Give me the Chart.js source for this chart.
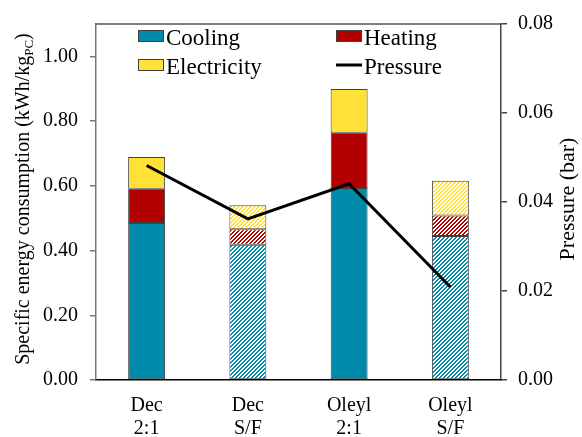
<!DOCTYPE html>
<html>
<head>
<meta charset="utf-8">
<script src="https://cdn.jsdelivr.net/npm/chart.js@4/dist/chart.umd.min.js"></script>
<style>
  html, body { margin: 0; padding: 0; background: #fff; }
  #wrap { width: 582px; height: 437px; }
</style>
</head>
<body>
<div id="wrap"><canvas id="c" width="582" height="437"></canvas></div>
<script>
// Specific energy consumption per configuration, stacked by energy type
const categories = [['Dec', '2:1'], ['Dec', 'S/F'], ['Oleyl', '2:1'], ['Oleyl', 'S/F']];
const cooling     = [0.485, 0.418, 0.593, 0.445];
const heating     = [0.106, 0.048, 0.171, 0.063];
const electricity = [0.098, 0.074, 0.135, 0.108];
const pressure    = [0.0482, 0.0362, 0.0441, 0.0209];
// S/F configurations are drawn hatched
const hatched     = [false, true, false, true];

const energyTicks   = [0, 0.2, 0.4, 0.6, 0.8, 1.0];
const pressureTicks = [0, 0.02, 0.04, 0.06, 0.08];

const SERIF = '"Liberation Serif", "Times New Roman", serif';
const COL = { cooling: '#008AA9', heating: '#B20000', electricity: '#FFE138' };
const EDGE = '#404040';

// diagonal "/" stripes of a colour on white
function stripes(color) {
  const t = document.createElement('canvas');
  t.width = 4; t.height = 4;
  const g = t.getContext('2d');
  g.fillStyle = '#fff';
  g.fillRect(0, 0, 4, 4);
  g.fillStyle = color;
  for (let x = 0; x < 4; x++) {
    for (let y = 0; y < 4; y++) {
      if ((x + y) % 4 < 2) g.fillRect(x, y, 1, 1);
    }
  }
  return g.createPattern(t, 'repeat');
}

function fills(color) {
  const p = stripes(color);
  return hatched.map(h => h ? p : color);
}

// left and right axis titles, plus the top frame line
const frameAndTitles = {
  id: 'frameAndTitles',
  afterDraw(chart) {
    const ctx = chart.ctx;
    const a = chart.chartArea;
    ctx.save();
    ctx.strokeStyle = '#555';
    ctx.lineWidth = 1.5;
    ctx.beginPath();
    ctx.moveTo(a.left - 0.75, a.top);
    ctx.lineTo(a.right + 0.75, a.top);
    ctx.stroke();

    // left title with subscript
    const main = 'Specific energy consumption (kWh/kg';
    const sub = 'PC';
    const close = ')';
    const mainFont = '20px ' + SERIF;
    const subFont = '13px ' + SERIF;
    ctx.font = mainFont;
    const w1 = ctx.measureText(main).width;
    const w3 = ctx.measureText(close).width;
    ctx.font = subFont;
    const w2 = ctx.measureText(sub).width;
    const total = w1 + w2 + w3;
    ctx.translate(22, (a.top + a.bottom) / 2 - 3);
    ctx.rotate(-Math.PI / 2);
    ctx.fillStyle = '#000';
    ctx.textBaseline = 'alphabetic';
    ctx.textAlign = 'left';
    let x = -total / 2;
    const base = 7;
    ctx.font = mainFont;
    ctx.fillText(main, x, base);
    x += w1;
    ctx.font = subFont;
    ctx.fillText(sub, x, base + 4);
    x += w2;
    ctx.font = mainFont;
    ctx.fillText(close, x, base);
    ctx.restore();

    // right title
    ctx.save();
    ctx.translate(568, (a.top + a.bottom) / 2 - 3);
    ctx.rotate(-Math.PI / 2);
    ctx.font = '22px ' + SERIF;
    ctx.fillStyle = '#000';
    ctx.textAlign = 'center';
    ctx.textBaseline = 'middle';
    ctx.fillText('Pressure (bar)', 0, 0);
    ctx.restore();
  }
};

// two-column legend inside the plot area
const gridLegend = {
  id: 'gridLegend',
  afterDraw(chart) {
    const ctx = chart.ctx;
    const ds = chart.data.datasets;
    const slots = [[138, 36], [336, 36], [138, 65], [336, 65]];
    const order = [1, 2, 3, 0]; // Cooling, Heating, Electricity, Pressure
    ctx.save();
    ctx.font = '23px ' + SERIF;
    ctx.textBaseline = 'middle';
    ctx.textAlign = 'left';
    order.forEach((di, i) => {
      const d = ds[di];
      const [sx, sy] = slots[i];
      if (d.type === 'line') {
        ctx.strokeStyle = d.borderColor;
        ctx.lineWidth = 3;
        ctx.beginPath();
        ctx.moveTo(sx, sy);
        ctx.lineTo(sx + 26, sy);
        ctx.stroke();
      } else {
        ctx.fillStyle = d.swatch;
        ctx.fillRect(sx, sy - 6, 26, 12);
        ctx.strokeStyle = EDGE;
        ctx.lineWidth = 1;
        ctx.strokeRect(sx + 0.5, sy - 5.5, 25, 11);
      }
      ctx.fillStyle = '#000';
      ctx.fillText(d.label, sx + 28, sy + 3);
    });
    ctx.restore();
  }
};

const barCommon = {
  type: 'bar',
  yAxisID: 'y',
  stack: 'energy',
  borderColor: EDGE,
  borderWidth: 1,
  borderSkipped: false,
  barPercentage: 0.365,
  categoryPercentage: 1.0,
  order: 1
};

new Chart(document.getElementById('c'), {
  data: {
    labels: categories,
    datasets: [
      {
        type: 'line',
        label: 'Pressure',
        data: pressure,
        yAxisID: 'y1',
        borderColor: '#000',
        borderWidth: 3,
        pointRadius: 0,
        tension: 0,
        fill: false,
        order: 0
      },
      Object.assign({}, barCommon, { label: 'Cooling', data: cooling, backgroundColor: fills(COL.cooling), swatch: COL.cooling }),
      Object.assign({}, barCommon, { label: 'Heating', data: heating, backgroundColor: fills(COL.heating), swatch: COL.heating }),
      Object.assign({}, barCommon, { label: 'Electricity', data: electricity, backgroundColor: fills(COL.electricity), swatch: COL.electricity })
    ]
  },
  options: {
    responsive: false,
    animation: false,
    devicePixelRatio: 1,
    layout: { padding: { top: 19, left: 0, right: 0, bottom: 0 } },
    plugins: {
      legend: { display: false },
      tooltip: { enabled: false }
    },
    scales: {
      x: {
        stacked: true,
        grid: { display: false, drawTicks: false },
        border: { display: true, color: '#000', width: 1.5 },
        ticks: {
          color: '#000',
          font: { family: SERIF, size: 20, lineHeight: 1.15 },
          padding: 14,
          maxRotation: 0,
          autoSkip: false
        },
        afterFit(s) { s.height = 57; }
      },
      y: {
        stacked: true,
        position: 'left',
        min: 0,
        max: 1.1,
        afterBuildTicks(s) { s.ticks = energyTicks.map(v => ({ value: v })); },
        grid: { drawOnChartArea: false, drawTicks: true, tickLength: 6, color: '#777', lineWidth: 1.5 },
        border: { display: true, color: '#777', width: 1.5 },
        ticks: {
          color: '#000',
          font: { family: SERIF, size: 20 },
          padding: 12,
          callback: v => Number(v).toFixed(2)
        },
        afterFit(s) { s.width = 96; }
      },
      y1: {
        position: 'right',
        min: 0,
        max: 0.08,
        afterBuildTicks(s) { s.ticks = pressureTicks.map(v => ({ value: v })); },
        grid: { drawOnChartArea: false, drawTicks: true, tickLength: 6, color: '#444', lineWidth: 1.5 },
        border: { display: true, color: '#444', width: 1.5 },
        ticks: {
          color: '#000',
          font: { family: SERIF, size: 20 },
          padding: 11,
          callback: v => Number(v).toFixed(2)
        },
        afterFit(s) { s.width = 81; }
      }
    }
  },
  plugins: [frameAndTitles, gridLegend]
});
</script>
</body>
</html>
